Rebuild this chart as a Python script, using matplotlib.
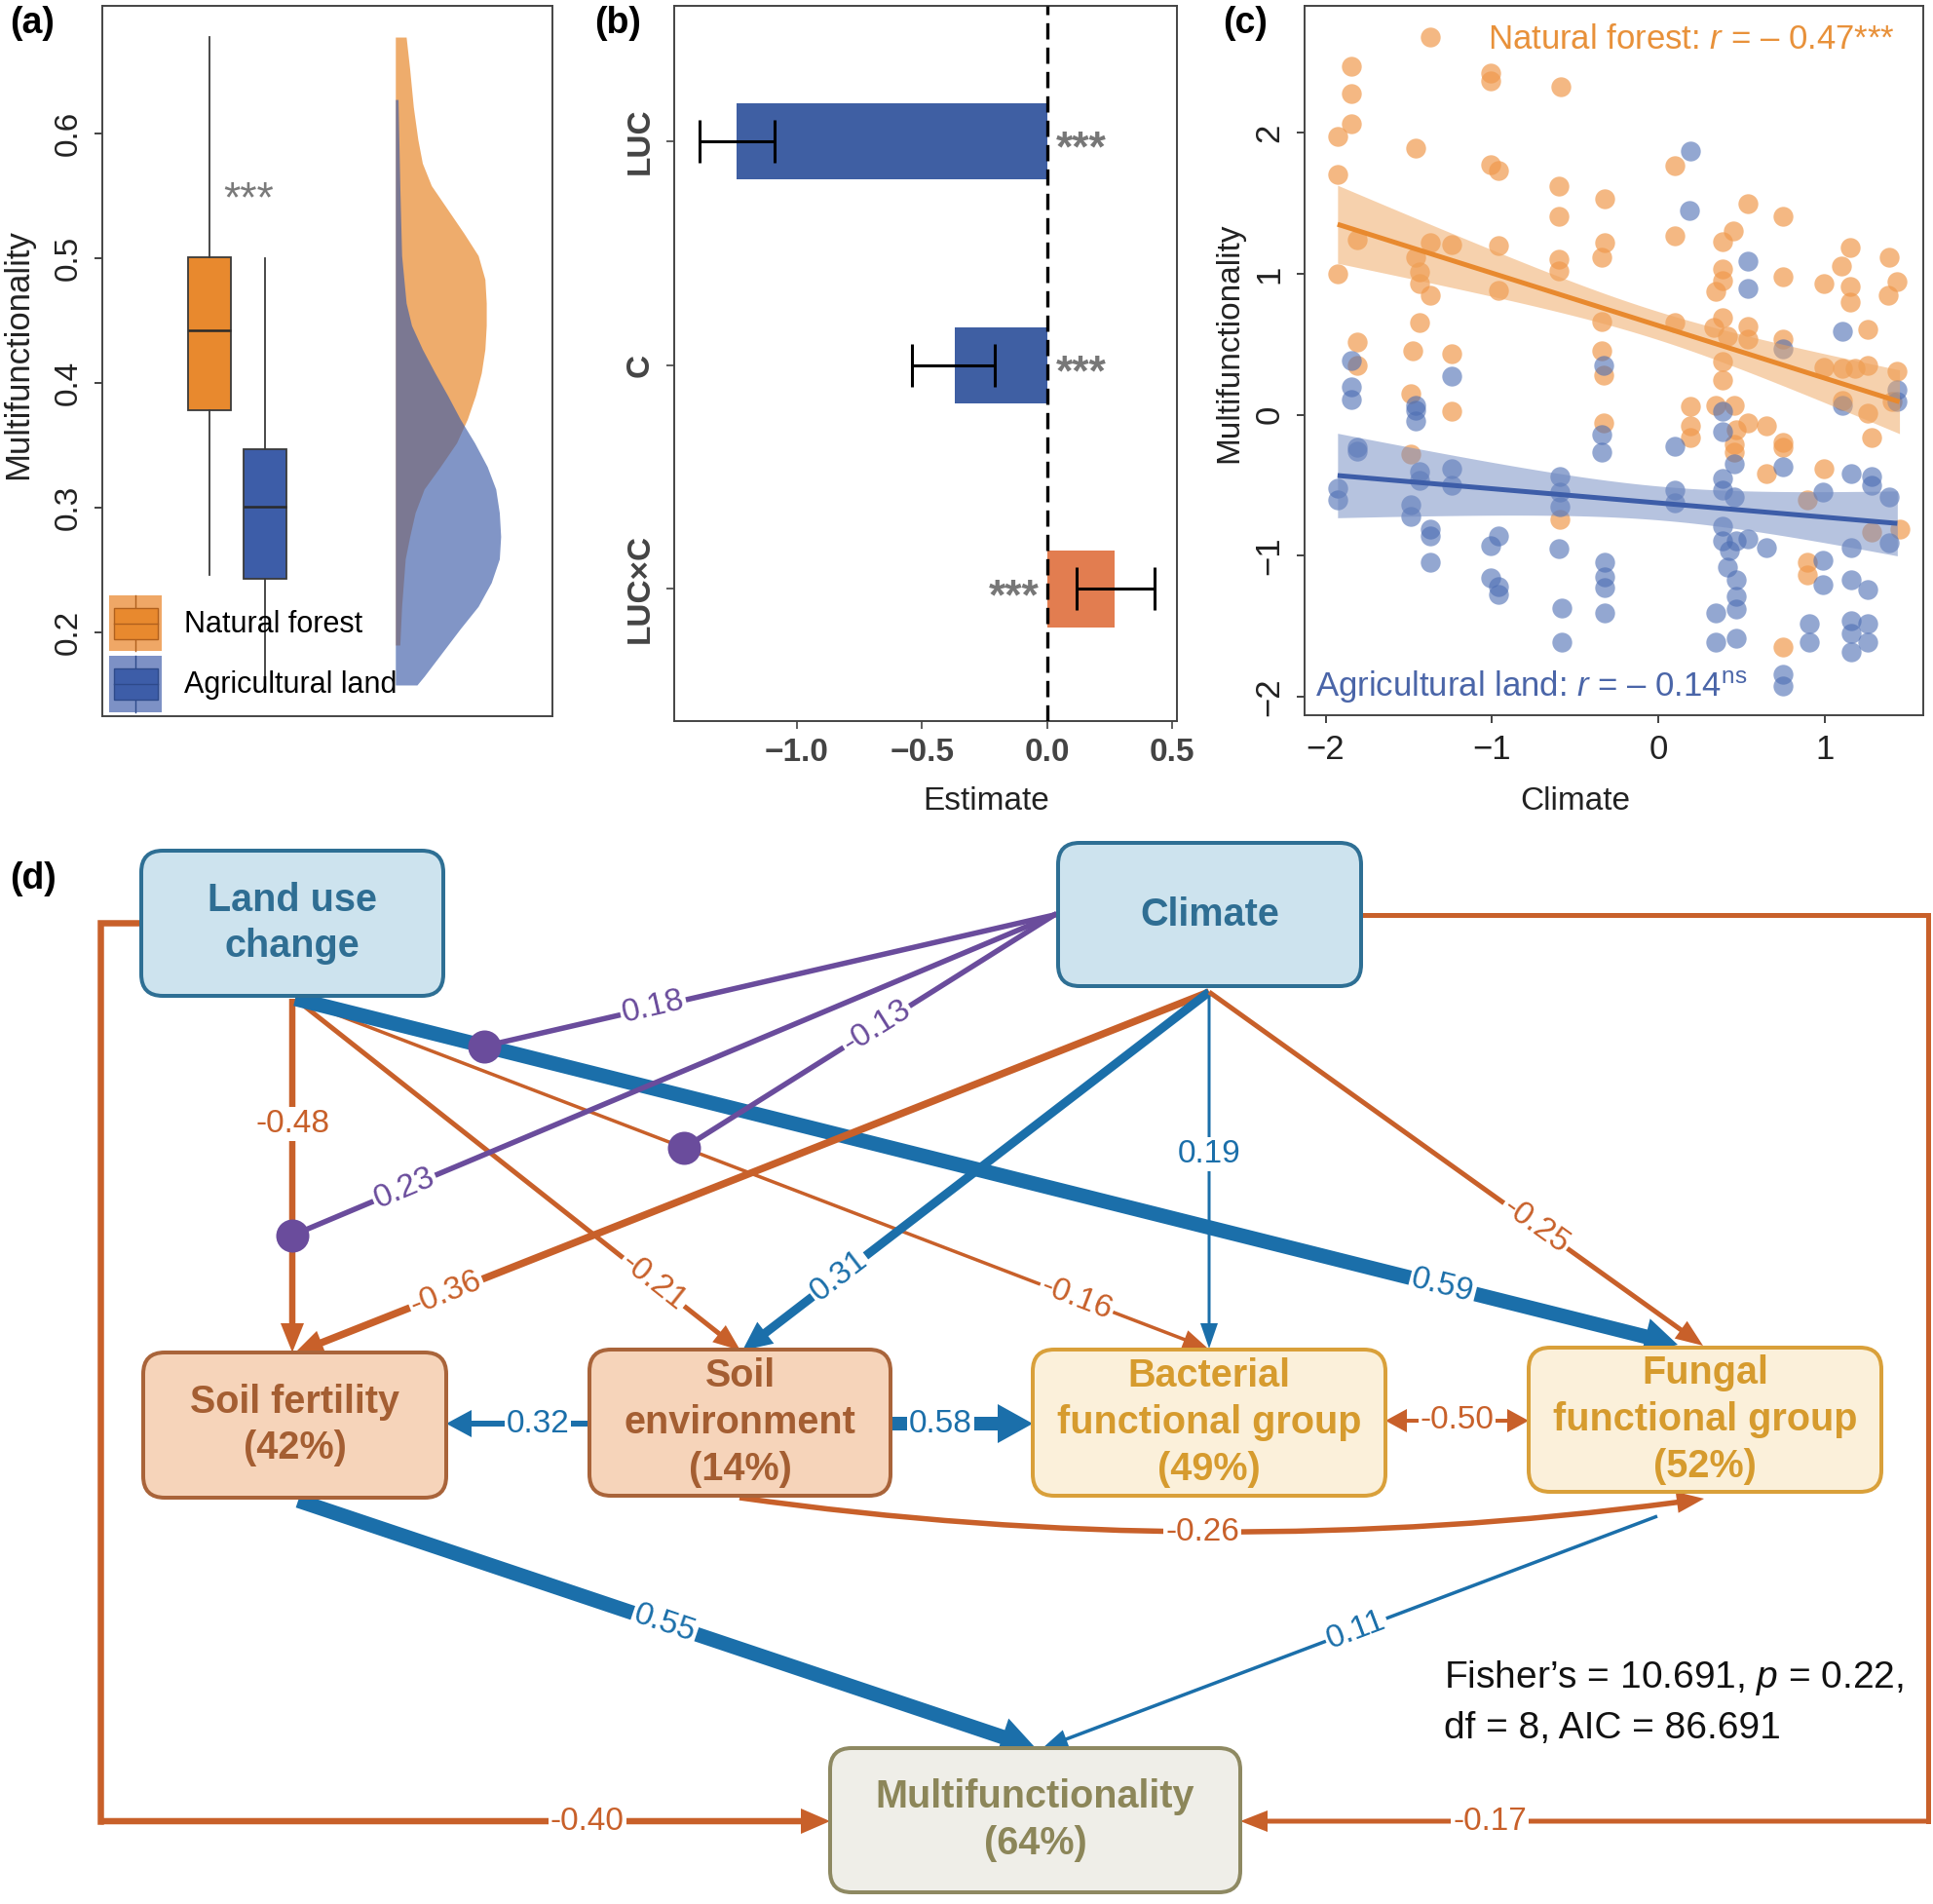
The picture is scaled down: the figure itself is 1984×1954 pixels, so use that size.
import numpy as np
import matplotlib
matplotlib.use("Agg")
import matplotlib.pyplot as plt
from matplotlib.patches import FancyBboxPatch, FancyArrowPatch, Rectangle, Patch, ArrowStyle
from matplotlib.lines import Line2D
from matplotlib.legend_handler import HandlerBase
from matplotlib.ticker import FuncFormatter
from matplotlib import font_manager as fm

_avail = {f.name for f in fm.fontManager.ttflist}
FONT = "Liberation Sans" if "Liberation Sans" in _avail else "DejaVu Sans"
plt.rcParams["font.family"] = [FONT, "DejaVu Sans"]
plt.rcParams["mathtext.fontset"] = "custom"
plt.rcParams["mathtext.rm"] = FONT
plt.rcParams["mathtext.it"] = FONT + ":italic"
plt.rcParams["mathtext.bf"] = FONT + ":bold"
plt.rcParams["axes.unicode_minus"] = True

# ---------------------------------------------------------------- data (a)
groups = ["Natural forest", "Agricultural land"]
box_q1 = [0.378, 0.243]
box_med = [0.442, 0.301]
box_q3 = [0.501, 0.347]
box_wlo = [0.246, 0.160]
box_whi = [0.677, 0.500]
a_yticks = [0.2, 0.3, 0.4, 0.5, 0.6]
a_sig = "***"
# half-violin density profiles (y value, relative width)
dens_nf_y = [0.677, 0.651, 0.621, 0.595, 0.576, 0.558, 0.539, 0.520, 0.502, 0.483,
             0.464, 0.446, 0.427, 0.408, 0.390, 0.371, 0.352, 0.333, 0.315, 0.296,
             0.277, 0.259, 0.221, 0.190]
dens_nf_w = [0.024, 0.032, 0.040, 0.050, 0.060, 0.080, 0.116, 0.152, 0.184, 0.199,
             0.202, 0.202, 0.199, 0.191, 0.178, 0.160, 0.136, 0.100, 0.064, 0.044,
             0.032, 0.022, 0.014, 0.010]
dens_al_y = [0.627, 0.558, 0.502, 0.464, 0.446, 0.427, 0.408, 0.390, 0.371, 0.352,
             0.333, 0.315, 0.296, 0.277, 0.259, 0.240, 0.221, 0.203, 0.184, 0.165, 0.158]
dens_al_w = [0.006, 0.010, 0.014, 0.024, 0.036, 0.060, 0.088, 0.116, 0.144, 0.176,
             0.204, 0.223, 0.231, 0.234, 0.231, 0.213, 0.184, 0.144, 0.104, 0.064, 0.048]

# ---------------------------------------------------------------- data (b)
terms = ["LUC", "C", "LUC\u00d7C"]
est = [-1.24, -0.37, 0.27]
ci_lo = [-1.39, -0.54, 0.12]
ci_hi = [-1.09, -0.21, 0.43]
b_sig = ["***", "***", "***"]
b_xticks = [-1.0, -0.5, 0.0, 0.5]

# ---------------------------------------------------------------- data (c)
nf_x = [-1.369, -1.846, -1.846, -1.846, -1.928, -1.928, -1.46, -1.006, -1.006, -0.587,
        -1.006, -0.959, -1.928, -1.813, -1.369, -1.24, -1.46, -1.433, -1.433, -1.369,
        -1.433, -1.813, -1.474, -1.24, -1.813, -0.598, -0.598, -0.959, -0.598, -0.598,
        -0.959, -0.325, -0.325, -0.344, -0.344, -0.344, -0.331, 0.096, 0.096, 0.096,
        0.537, 0.744, 0.446, 0.386, 0.386, 0.386, 0.344, 0.744, 0.331, 0.386,
        0.413, 0.537, 0.537, 0.386, 0.744, 0.386, 0.992, 1.152, 1.096, 1.152,
        1.152, 1.386, 1.433, 1.377, 1.253, 0.992, 1.102, 1.253, 1.433, 1.18,
        -1.24, -0.331, 0.193, 0.193, 0.193, 0.344, 0.455, 0.468, 0.537, 0.455,
        0.455, 0.647, 0.744, 0.744, 0.647, 0.992, 1.102, 1.253, 1.28, 0.895,
        1.28, 1.446, 0.895, 0.895, 0.744, -0.592, -1.488, -1.488, 1.4]
nf_y = [2.678, 2.47, 2.28, 2.065, 1.972, 1.706, 1.891, 2.424, 2.366, 2.324,
        1.775, 1.729, 1.0, 1.243, 1.22, 1.208, 1.116, 1.012, 0.93, 0.85,
        0.653, 0.514, 0.456, 0.433, 0.352, 1.625, 1.405, 1.197, 1.104, 1.023,
        0.884, 1.532, 1.22, 1.116, 0.664, 0.456, 0.282, 1.764, 1.266, 0.653,
        1.498, 1.405, 1.301, 1.231, 1.035, 0.954, 0.873, 0.977, 0.618, 0.688,
        0.56, 0.63, 0.537, 0.375, 0.537, 0.248, 0.93, 1.185, 1.058, 0.907,
        0.803, 1.116, 0.942, 0.85, 0.606, 0.34, 0.329, 0.352, 0.306, 0.329,
        0.023, -0.058, 0.058, -0.081, -0.162, 0.07, 0.07, -0.104, -0.058, -0.209,
        -0.267, -0.081, -0.197, -0.232, -0.417, -0.382, 0.104, 0.012, -0.162, -0.603,
        -0.834, -0.811, -1.043, -1.136, -1.645, -0.742, 0.151, -0.278, 0.093]
al_x = [0.193, 0.187, 0.537, 0.537, 1.102, -1.846, -1.846, -1.846, -1.24, -0.331,
        0.744, 1.433, -1.46, -1.46, -1.46, -1.813, -1.813, -1.928, -1.928, -1.433,
        -1.433, -1.24, -1.24, -1.488, -1.488, -1.369, -1.369, -1.369, -1.006, -0.959,
        -1.006, -0.959, -0.959, -0.592, -0.592, -0.592, -0.601, -0.579, -0.579, -0.344,
        -0.344, -0.325, -0.325, -0.325, -0.325, 0.096, 0.096, 0.096, 0.386, 0.386,
        0.455, 0.386, 0.386, 0.455, 0.386, 0.386, 0.427, 0.468, 0.537, 0.647,
        0.413, 0.468, 0.468, 0.468, 0.344, 0.344, 0.468, 0.744, 0.744, 0.744,
        0.986, 0.986, 0.986, 0.904, 0.904, 1.157, 1.281, 1.281, 1.383, 1.383,
        1.157, 1.157, 1.253, 1.157, 1.157, 1.157, 1.253, 1.253, 1.433, 1.102]
al_y = [1.868, 1.451, 1.093, 0.896, 0.595, 0.387, 0.201, 0.109, 0.271, 0.352,
        0.468, 0.178, 0.07, 0.035, -0.046, -0.232, -0.255, -0.521, -0.603, -0.406,
        -0.463, -0.382, -0.498, -0.637, -0.718, -0.811, -0.857, -1.043, -0.927, -0.857,
        -1.159, -1.217, -1.275, -0.44, -0.545, -0.649, -0.95, -1.367, -1.611, -0.139,
        -0.267, -1.043, -1.147, -1.228, -1.402, -0.22, -0.533, -0.626, 0.023, -0.116,
        -0.348, -0.452, -0.533, -0.579, -0.788, -0.892, -0.962, -0.892, -0.881, -0.939,
        -1.078, -1.17, -1.286, -1.379, -1.402, -1.611, -1.587, -0.371, -1.842, -1.924,
        -0.545, -1.031, -1.205, -1.483, -1.611, -0.417, -0.44, -0.498, -0.579, -0.904,
        -0.939, -1.17, -1.24, -1.46, -1.553, -1.68, -1.483, -1.611, 0.093, 0.07]
# fitted lines: intercept, slope, CI half-width at xm, CI slope term, xm
fit_intercept = [0.632, -0.625]
fit_slope = [-0.373, -0.101]
fit_h0 = [0.10, 0.12]
fit_hs = [0.1365, 0.140]
fit_xm = [-0.038, 0.031]
c_xticks = [-2, -1, 0, 1]
c_yticks = [-2, -1, 0, 1, 2]
r_text = ["\u2013 0.47***", "\u2013 0.14"]
r_sup = ["", "ns"]

# ---------------------------------------------------------------- data (d)
node_keys = ["LUC", "CLI", "SF", "SE", "BAC", "FUN", "MF"]
node_names = ["Land use\nchange", "Climate", "Soil fertility", "Soil\nenvironment",
              "Bacterial\nfunctional group", "Fungal\nfunctional group", "Multifunctionality"]
node_r2 = [None, None, 42, 14, 49, 52, 64]
path_from = ["LUC", "LUC", "LUC", "LUC", "CLI", "CLI", "CLI", "CLI",
             "SE", "SE", "BAC", "SE", "SF", "FUN", "LUC", "CLI"]
path_to = ["SF", "SE", "BAC", "FUN", "SF", "SE", "BAC", "FUN",
           "SF", "BAC", "FUN", "FUN", "MF", "MF", "MF", "MF"]
path_coef = [-0.48, -0.21, -0.16, 0.59, -0.36, 0.31, 0.19, -0.25,
             0.32, 0.58, -0.50, -0.26, 0.55, 0.11, -0.40, -0.17]
inter_coef = [0.23, 0.18, -0.13]
inter_path = [("LUC", "SF"), ("LUC", "FUN"), ("LUC", "BAC")]
fit_stats = ["Fisher\u2019s = 10.691, $\\mathit{p}$ = 0.22,", "df = 8, AIC = 86.691"]

# ---------------------------------------------------------------- styles
C_OR = "#E8892E"
C_BL = "#3D5DA8"
C_PT_OR = "#F09A4E"
C_PT_BL = "#4C6DB3"
C_BAR_BL = "#3F5FA3"
C_BAR_OR = "#E27D50"
E_OR = "#C8602A"
E_BL = "#1B6FAA"
E_PU = "#6A4C9C"
SPINE = "#444444"
PT = 0.72

W, H = 1984, 1954
fig = plt.figure(figsize=(W / 100, H / 100), dpi=100)


def px_axes(l, t, r, b):
    return fig.add_axes([l / W, 1 - b / H, (r - l) / W, (b - t) / H])


def style_spines(ax):
    for s in ax.spines.values():
        s.set_color(SPINE)
        s.set_linewidth(1.4)


minus_fmt = FuncFormatter(lambda v, p: ("%g" % v).replace("-", "\u2212"))

# ================================================================= (a)
axA = px_axes(105, 6, 567, 735)
axA.set_xlim(0, 1)
axA.set_ylim(0.133, 0.702)
stats = [dict(label=g, med=box_med[i], q1=box_q1[i], q3=box_q3[i],
              whislo=box_wlo[i], whishi=box_whi[i], fliers=[]) for i, g in enumerate(groups)]
bp = axA.bxp(stats, positions=[0.2375, 0.362], widths=0.095, patch_artist=True,
             showcaps=False, showfliers=False, manage_ticks=False,
             boxprops=dict(edgecolor="#3a3a3a", linewidth=1.3),
             medianprops=dict(color="#2a2a2a", linewidth=1.8),
             whiskerprops=dict(color="#3a3a3a", linewidth=1.3))
for patch, c in zip(bp["boxes"], [C_OR, C_BL]):
    patch.set_facecolor(c)
base = 0.651
axA.fill_betweenx(dens_nf_y, base, base + np.asarray(dens_nf_w), color=C_OR, alpha=0.7, lw=0)
axA.fill_betweenx(dens_al_y, base, base + np.asarray(dens_al_w), color=C_BL, alpha=0.65, lw=0)
axA.text(0.326, 0.546, a_sig, ha="center", va="center", fontsize=32, color="#7a7a7a")


class BoxKey(HandlerBase):
    def __init__(self, bg, fc, ec):
        super().__init__()
        self.bg, self.fc, self.ec = bg, fc, ec

    def create_artists(self, legend, orig_handle, xd, yd, w, h, fontsize, trans):
        x0, y0 = -xd, -yd
        return [Rectangle((x0, y0), w, h, fc=self.bg, ec="none", transform=trans),
                Line2D([x0 + w / 2] * 2, [y0, y0 + h], color=self.ec, lw=1, transform=trans),
                Rectangle((x0 + 0.09 * w, y0 + 0.22 * h), 0.82 * w, 0.56 * h, fc=self.fc,
                          ec=self.ec, lw=1, transform=trans),
                Line2D([x0 + 0.09 * w, x0 + 0.91 * w], [y0 + h / 2] * 2, color=self.ec, lw=1,
                       transform=trans)]


h1, h2 = Patch(), Patch()
axA.legend([h1, h2], groups, loc="lower left", bbox_to_anchor=(0.016, 0.006),
           borderpad=0, borderaxespad=0, handlelength=1.77, handleheight=2.5,
           labelspacing=0.17, handletextpad=0.75, frameon=False, fontsize=22,
           handler_map={h1: BoxKey("#EFA766", C_OR, "#B0601E"),
                        h2: BoxKey("#7D91C5", C_BL, "#2E4A8A")})
axA.set_xticks([])
axA.set_yticks(a_yticks)
axA.yaxis.set_major_formatter(FuncFormatter(lambda v, p: "%.1f" % v))
axA.tick_params(axis="y", labelsize=24, length=6, width=1.2, pad=8, labelrotation=90, colors="#222222")
for lab in axA.get_yticklabels():
    lab.set_va("center")
axA.set_ylabel("Multifunctionality", fontsize=25, color="#222222")
axA.yaxis.set_label_coords(-0.186, 0.51)
axA.yaxis.label.set_va("center")
style_spines(axA)

# ================================================================= (b)
axB = px_axes(692, 6, 1208, 740)
ypos = np.arange(len(terms))[::-1] + 1.0
est_a = np.asarray(est)
bar_cols = [C_BAR_BL if e < 0 else C_BAR_OR for e in est_a]
axB.barh(ypos, est_a, height=0.34, color=bar_cols, zorder=2)
axB.errorbar(est_a, ypos, xerr=[est_a - np.asarray(ci_lo), np.asarray(ci_hi) - est_a],
             fmt="none", ecolor="black", elinewidth=2.2, capsize=16, capthick=2.2, zorder=3)
axB.axvline(0, color="black", lw=2.4, ls=(0, (5, 2.5)), zorder=4)
for yv, e, s in zip(ypos, est_a, b_sig):
    if e < 0:
        axB.text(0.035, yv - 0.04, s, ha="left", va="center", fontsize=32,
                 fontweight="bold", color="#777777", zorder=5)
    else:
        axB.text(-0.03, yv - 0.04, s, ha="right", va="center", fontsize=32,
                 fontweight="bold", color="#777777", zorder=5)
axB.set_xlim(-1.49, 0.52)
axB.set_ylim(0.41, 3.606)
axB.set_xticks(b_xticks)
axB.xaxis.set_major_formatter(FuncFormatter(lambda v, p: ("%.1f" % v).replace("-", "\u2212")))
axB.set_yticks(ypos)
axB.set_yticklabels(terms)
axB.tick_params(axis="x", labelsize=24, length=6, width=1.2, pad=6, colors="#444444")
axB.tick_params(axis="y", labelsize=24, length=6, width=1.2, pad=8, labelrotation=90, colors="#444444")
for lab in axB.get_xticklabels() + axB.get_yticklabels():
    lab.set_fontweight("bold")
for lab in axB.get_yticklabels():
    lab.set_va("center")
axB.set_xlabel("Estimate", fontsize=24, color="#222222")
axB.xaxis.set_label_coords(0.62, -0.112)
axB.xaxis.label.set_va("center")
style_spines(axB)

# ================================================================= (c)
axC = px_axes(1339, 6, 1974, 734)
axC.scatter(nf_x, nf_y, s=215, color=C_PT_OR, alpha=0.7, lw=0, zorder=2)
axC.scatter(al_x, al_y, s=215, color=C_PT_BL, alpha=0.6, lw=0, zorder=2)
for i, (gx, col, band) in enumerate([(nf_x, C_OR, "#EFA45C"), (al_x, C_BL, "#6F88C0")]):
    xs = np.linspace(min(gx), max(gx), 100)
    yfit = fit_intercept[i] + fit_slope[i] * xs
    hw = np.sqrt(fit_h0[i] ** 2 + (fit_hs[i] * (xs - fit_xm[i])) ** 2)
    axC.fill_between(xs, yfit - hw, yfit + hw, color=band, alpha=0.5, lw=0, zorder=3)
for i, (gx, col) in enumerate([(nf_x, C_OR), (al_x, C_BL)]):
    xs = np.linspace(min(gx), max(gx), 100)
    axC.plot(xs, fit_intercept[i] + fit_slope[i] * xs, color=col, lw=3.6, zorder=4,
             solid_capstyle="butt")
axC.text(1.42, 2.665, "Natural forest: $\\mathit{r}$ = " + r_text[0], ha="right", va="center",
         fontsize=25, color="#E8913A")
axC.text(-2.06, -1.93, "Agricultural land: $\\mathit{r}$ = " + r_text[1] + "$^{\\mathrm{" + r_sup[1] + "}}$",
         ha="left", va="center", fontsize=25, color="#4A65A8")
axC.set_xlim(-2.126, 1.589)
axC.set_ylim(-2.13, 2.90)
axC.set_xticks(c_xticks)
axC.set_yticks(c_yticks)
axC.xaxis.set_major_formatter(minus_fmt)
axC.yaxis.set_major_formatter(minus_fmt)
axC.tick_params(axis="both", labelsize=25, length=6, width=1.2, pad=8, colors="#222222")
axC.tick_params(axis="y", labelrotation=90)
for lab in axC.get_yticklabels():
    lab.set_va("center")
axC.set_xlabel("Climate", fontsize=24, color="#222222")
axC.xaxis.set_label_coords(0.438, -0.121)
axC.xaxis.label.set_va("center")
axC.set_ylabel("Multifunctionality", fontsize=24, color="#222222")
axC.yaxis.set_label_coords(-0.121, 0.525)
axC.yaxis.label.set_va("center")
style_spines(axC)

# panel labels
for lab, x in [("(a)", 10), ("(b)", 610), ("(c)", 1255)]:
    fig.text(x / W, 1 - 6 / H, lab, ha="left", va="top", fontsize=27, fontweight="bold")
fig.text(10 / W, 1 - 884 / H, "(d)", ha="left", va="top", fontsize=27, fontweight="bold")

# ================================================================= (d)
axD = px_axes(0, 860, 1984, 1954)
axD.set_xlim(0, W)
axD.set_ylim(H, 860)
axD.axis("off")

box_rect = {"LUC": (145, 873, 455, 1022), "CLI": (1086, 865, 1397, 1012),
            "SF": (147, 1388, 458, 1537), "SE": (605, 1385, 914, 1535),
            "BAC": (1060, 1385, 1422, 1535), "FUN": (1569, 1383, 1931, 1531),
            "MF": (852, 1794, 1273, 1942)}
box_style = {"LUC": ("#CDE3EE", "#2E6F94", "#2F6E93"), "CLI": ("#CDE3EE", "#2E6F94", "#2F6E93"),
             "SF": ("#F6D4BA", "#A9643A", "#A45E32"), "SE": ("#F6D4BA", "#A9643A", "#A45E32"),
             "BAC": ("#FBF0DA", "#D9A03A", "#D69B2E"), "FUN": ("#FBF0DA", "#D9A03A", "#D69B2E"),
             "MF": ("#EFEEE8", "#8E8962", "#8C8659")}
for key, name, r2 in zip(node_keys, node_names, node_r2):
    x0, y0, x1, y1 = box_rect[key]
    fc, ec, tc = box_style[key]
    axD.add_patch(FancyBboxPatch((x0, y0), x1 - x0, y1 - y0,
                                 boxstyle="round,pad=0,rounding_size=22",
                                 fc=fc, ec=ec, lw=4 * PT, zorder=3))
    txt = name if r2 is None else "%s\n(%d%%)" % (name, r2)
    axD.text((x0 + x1) / 2, (y0 + y1) / 2, txt, ha="center", va="center", fontsize=28.5,
             fontweight="bold", color=tc, linespacing=1.33, zorder=4)

# geometry: start, end, shaft width px, head length px, head width px, label t, label horizontal
geom = {
    ("LUC", "SF"): ((300, 1025), (300, 1388), 6.5, 30, 24, 0.355, True),
    ("LUC", "SE"): ((303, 1025), (760, 1386), 5, 28, 22, 0.805, False),
    ("LUC", "BAC"): ((303, 1025), (1240, 1384), 3.5, 26, 20, 0.856, False),
    ("LUC", "FUN"): ((303, 1025), (1722, 1380), 15, 34, 38, 0.83, False),
    ("CLI", "SF"): ((1241, 1018), (302, 1389), 7.5, 30, 26, 0.834, False),
    ("CLI", "SE"): ((1241, 1018), (762, 1386), 9, 30, 28, 0.793, False),
    ("CLI", "BAC"): ((1241, 1018), (1241, 1384), 3, 26, 18, 0.455, True),
    ("CLI", "FUN"): ((1241, 1018), (1748, 1381), 5, 28, 22, 0.661, False),
    ("SE", "SF"): ((605, 1461), (458, 1461), 6, 26, 28, 0.36, True),
    ("SE", "BAC"): ((914, 1461), (1060, 1461), 14, 36, 40, 0.35, True),
    ("BAC", "FUN"): ((1422, 1458), (1569, 1458), 4, 22, 24, 0.5, True),
    ("SE", "FUN"): ((759, 1537), (1749, 1538), 5.5, 28, 22, 0.48, True),
    ("SF", "MF"): ((306, 1540), (1063, 1794), 15, 36, 40, 0.497, False),
    ("FUN", "MF"): ((1701, 1556), (1070, 1794), 3.5, 26, 20, 0.49, False),
    ("LUC", "MF"): ((103, 1869), (852, 1869), 6.5, 30, 26, 0.667, True),
    ("CLI", "MF"): ((1979, 1869), (1273, 1869), 5, 28, 22, 0.637, True),
}
elbow_lead = {("LUC", "MF"): [(145, 947), (103, 947), (103, 1869)],
              ("CLI", "MF"): [(1397, 939), (1979, 939), (1979, 1869)]}
curve_rad = {("SE", "FUN"): 0.07}


def simple_arrow(p, q, w, hl, hw, col, rad=0.0):
    st = ArrowStyle.Simple(head_length=hl * PT, head_width=hw * PT, tail_width=w * PT)
    axD.add_patch(FancyArrowPatch(p, q, arrowstyle=st, mutation_scale=1, color=col, lw=0,
                                  shrinkA=0, shrinkB=0, zorder=2,
                                  connectionstyle="arc3,rad=%g" % rad))


def line_angle(p, q):
    a = np.degrees(np.arctan2(-(q[1] - p[1]), q[0] - p[0]))
    if a > 90:
        a -= 180
    if a <= -90:
        a += 180
    return a


def label(x, y, text, col, rot):
    axD.text(x, y, text, ha="center", va="center", rotation=rot, rotation_mode="anchor",
             fontsize=24, color=col, zorder=6,
             bbox=dict(fc="white", ec="none", pad=1.5))


for f, t, c in zip(path_from, path_to, path_coef):
    p, q, w, hl, hw, lt, horiz = geom[(f, t)]
    col = E_BL if c > 0 else E_OR
    txt = "%.2f" % c
    if (f, t) in elbow_lead:
        pts = np.array(elbow_lead[(f, t)])
        axD.plot(pts[:, 0], pts[:, 1], color=col, lw=w * PT, solid_joinstyle="miter",
                 solid_capstyle="projecting", zorder=2)
    if (f, t) == ("BAC", "FUN"):
        mid = ((p[0] + q[0]) / 2, (p[1] + q[1]) / 2)
        simple_arrow(mid, p, w, hl, hw, col)
        simple_arrow(mid, q, w, hl, hw, col)
        label(mid[0], mid[1], txt, col, 0)
        continue
    rad = curve_rad.get((f, t), 0.0)
    simple_arrow(p, q, w, hl, hw, col, rad)
    if rad:
        dx = q[0] - p[0]
        ctrl = ((p[0] + q[0]) / 2, (p[1] + q[1]) / 2 + rad * dx)
        s = lt
        lx = (1 - s) ** 2 * p[0] + 2 * s * (1 - s) * ctrl[0] + s ** 2 * q[0]
        ly = (1 - s) ** 2 * p[1] + 2 * s * (1 - s) * ctrl[1] + s ** 2 * q[1]
    else:
        lx = p[0] + (q[0] - p[0]) * lt
        ly = p[1] + (q[1] - p[1]) * lt
    label(lx, ly, txt, col, 0 if horiz else line_angle(p, q))

# interaction (moderation) paths from Climate
inter_src = (1082, 939)
inter_t = {("LUC", "SF"): 0.669, ("LUC", "FUN"): 0.137, ("LUC", "BAC"): 0.426}
inter_lt = [0.853, 0.704, 0.48]
for c, tgt, lt in zip(inter_coef, inter_path, inter_lt):
    p, q = geom[tgt][0], geom[tgt][1]
    s = inter_t[tgt]
    dot = (p[0] + (q[0] - p[0]) * s, p[1] + (q[1] - p[1]) * s)
    axD.plot([inter_src[0], dot[0]], [inter_src[1], dot[1]], color=E_PU, lw=5.5 * PT, zorder=2.5)
    axD.scatter([dot[0]], [dot[1]], s=(34 * PT) ** 2, color=E_PU, zorder=2.6, lw=0)
    lx = inter_src[0] + (dot[0] - inter_src[0]) * lt
    ly = inter_src[1] + (dot[1] - inter_src[1]) * lt
    label(lx, ly, "%.2f" % c, E_PU, line_angle(inter_src, dot))

axD.text(1482, 1722, fit_stats[0], ha="left", va="center", fontsize=28, color="#111111")
axD.text(1482, 1774, fit_stats[1], ha="left", va="center", fontsize=28, color="#111111")

fig.savefig("out.png", dpi=100)
